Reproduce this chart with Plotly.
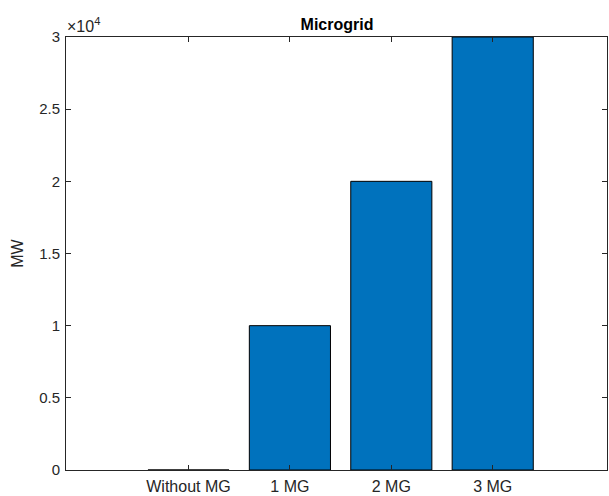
import plotly.graph_objects as go

categories = ["Without MG", "1 MG", "2 MG", "3 MG"]
values_mw = [0, 10000, 20000, 30000]
ytick_vals = [0, 5000, 10000, 15000, 20000, 25000, 30000]
ytick_text = ["0", "0.5", "1", "1.5", "2", "2.5", "3"]

axis_color = "#262626"
font_family = "Liberation Sans, Arial, sans-serif"

fig = go.Figure()
fig.add_trace(go.Bar(
    x=categories,
    y=values_mw,
    width=0.8,
    marker=dict(color="#0072BD", line=dict(color="#000000", width=1)),
))

fig.update_layout(
    width=609, height=496,
    margin=dict(l=66, r=1, t=37, b=23),
    paper_bgcolor="white", plot_bgcolor="white",
    showlegend=False,
    font=dict(family=font_family, size=15, color=axis_color),
    title=dict(text="<b>Microgrid</b>", x=337 / 609, xanchor="center",
               y=1 - 24 / 496, yanchor="middle",
               font=dict(size=16, color="#000000", family=font_family)),
)

fig.update_xaxes(
    type="category",
    range=[-1.208, 4.127],
    showline=True, linecolor=axis_color, linewidth=1, mirror="ticks",
    ticks="inside", ticklen=5, tickcolor=axis_color, tickwidth=1,
    showgrid=False, zeroline=False,
    tickfont=dict(size=16, color=axis_color),
    ticklabelstandoff=2,
)
fig.update_yaxes(
    range=[0, 30000],
    tickvals=ytick_vals, ticktext=ytick_text,
    showline=True, linecolor=axis_color, linewidth=1, mirror="ticks",
    ticks="inside", ticklen=5, tickcolor=axis_color, tickwidth=1,
    showgrid=False, zeroline=False,
    tickfont=dict(size=15, color=axis_color),
    ticklabelstandoff=2,
    title=dict(text="MW", font=dict(size=16, color=axis_color), standoff=11),
)

fig.add_annotation(
    text="×10<sup>4</sup>", xref="paper", yref="paper", x=0, y=1,
    xanchor="left", yanchor="bottom", showarrow=False,
    font=dict(size=16, color=axis_color, family=font_family),
    xshift=-1, yshift=0,
)

fig.write_html(
    "out.html",
    config={"displayModeBar": False},
    post_script="document.body.style.margin='0';document.body.style.overflow='hidden';",
)
